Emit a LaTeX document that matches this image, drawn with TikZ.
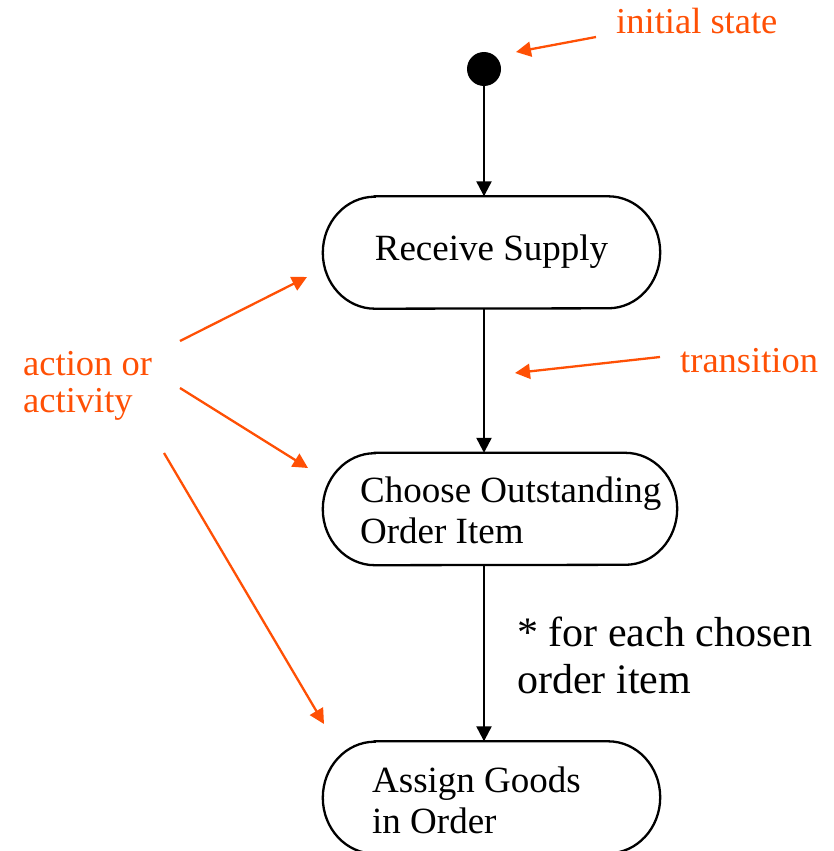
\documentclass[tikz,border=0pt]{standalone}
\usepackage{fontspec}
\setmainfont{Liberation Serif}
\usetikzlibrary{arrows.meta}
\definecolor{note}{RGB}{255,80,5}
% outline of an activity: straight top and bottom, half-elliptic ends
\newcommand\drawcapsule[1]{%
  \draw[line width=2.3pt]
    ([xshift=52pt]#1.north west) -- ([xshift=-52pt]#1.north east)
    arc[start angle=90,end angle=-90,x radius=52pt,y radius=56pt]
    -- ([xshift=52pt]#1.south west)
    arc[start angle=270,end angle=90,x radius=52pt,y radius=56pt] -- cycle;}
\begin{document}
\begin{tikzpicture}[x=1pt,y=-1pt,
  flow/.style={line width=2.3pt,-{Triangle[length=15pt,width=15pt]}},
  callout/.style={draw=note,line width=2.3pt,-{Triangle[length=15pt,width=15pt]}},
  activity/.style={rectangle,minimum width=337pt,minimum height=112pt,inner sep=0pt},
  txt/.style={font=\fontsize{37}{41}\selectfont,align=left,inner sep=0pt,anchor=base west},
  remark/.style={txt,text=note,font=\fontsize{36.5}{37}\selectfont},
  guard/.style={txt,font=\fontsize{42}{47}\selectfont}]
\useasboundingbox (0,0) rectangle (834,851);

% initial state
\node[circle,fill,minimum size=34pt,inner sep=0pt] (init) at (484,69) {};

% activities (multi-line texts are placed by the baseline of their last line)
\node[activity] (recv) at (491.5,252.5) {};
\drawcapsule{recv}
\node[txt,anchor=base] (recvtext) at (491.5,260) {Receive Supply};

\node[activity,minimum width=354pt] (choose) at (500,509) {};
\drawcapsule{choose}
\node[txt] (choosetext) at (360,543) {Choose Outstanding\\Order Item};

\node[activity] (assign) at (491.5,797.5) {};
\drawcapsule{assign}
\node[txt] (assigntext) at (372,833) {Assign Goods\\in Order};

% transitions
\draw[flow] (init.south) -- (init.south |- recv.north);
\draw[flow] (recv.south -| init) -- (choose.north -| init);
\draw[flow] (choose.south -| init) -- (assign.north -| init);
\node[guard] (each) at (517,693) {* for each chosen\\order item};

% annotations
\node[remark] (lblinit) at (616,34) {initial state};
\coordinate (initfrom) at (596,37);
\coordinate (initto) at (516,52);
\draw[callout] (initfrom) -- (initto);

\node[remark] (lbltrans) at (680,372) {transition};
\coordinate (transfrom) at (660,357);
\coordinate (transto) at (515,373);
\draw[callout] (transfrom) -- (transto);

\node[remark] (lblact) at (23,412) {action or\\activity};
\coordinate (actfromA) at (180,341);
\coordinate (acttoA) at (307,277);
\coordinate (actfromB) at (180,388);
\coordinate (acttoB) at (308,468);
\coordinate (actfromC) at (164,453);
\coordinate (acttoC) at (324,724);
\draw[callout] (actfromA) -- (acttoA);
\draw[callout] (actfromB) -- (acttoB);
\draw[callout] (actfromC) -- (acttoC);
\end{tikzpicture}
\end{document}
